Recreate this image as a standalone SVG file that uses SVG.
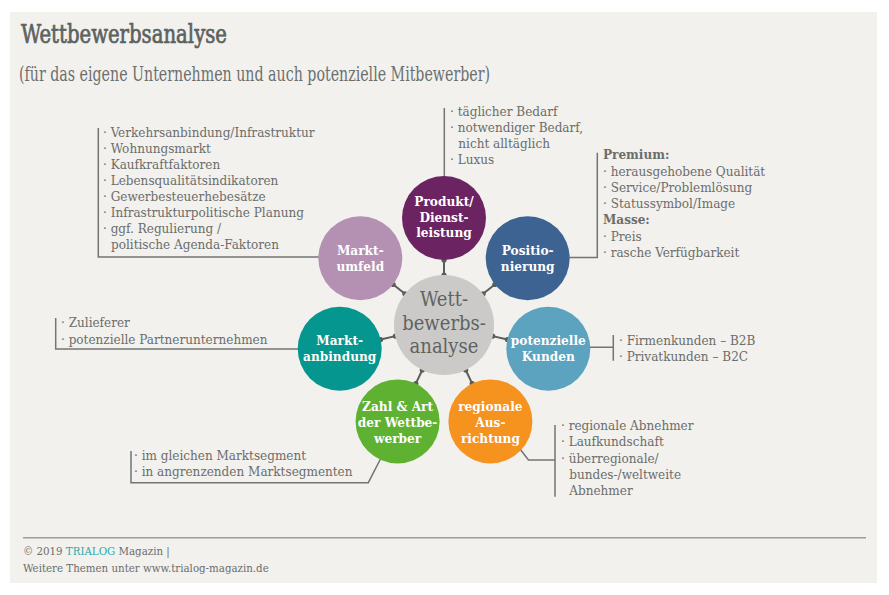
<svg xmlns="http://www.w3.org/2000/svg" width="889" height="595" viewBox="0 0 889 595">
<style>
.t{font-family:"DejaVu Serif Condensed","DejaVu Serif",serif;font-stretch:condensed;fill:#6b6d6b;font-size:13.4px}
.b{font-weight:bold}
.f{font-size:11.4px}
.c{font-family:"DejaVu Serif Condensed","DejaVu Serif",serif;font-stretch:condensed;fill:#ffffff;font-size:13.5px;font-weight:bold;text-anchor:middle}
.ct{font-family:"DejaVu Serif Condensed","DejaVu Serif",serif;font-stretch:condensed;fill:#5f6360;font-size:20px;text-anchor:middle}
.br{fill:none;stroke:#737573;stroke-width:1.5}
.cn{stroke:#5a5d5b;stroke-width:2}
.dot{fill:#5a5d5b}
</style>
<rect x="0" y="0" width="889" height="595" fill="#ffffff"/>
<rect x="10" y="12" width="867" height="571" fill="#f2f1ee"/>
<text x="21" y="43" font-family="DejaVu Serif Condensed, DejaVu Serif, serif" font-stretch="condensed" font-size="26.5" fill="#5c625f" stroke="#5c625f" stroke-width="0.7" textLength="206" lengthAdjust="spacingAndGlyphs">Wettbewerbsanalyse</text>
<text x="19" y="81" font-family="DejaVu Serif Condensed, DejaVu Serif, serif" font-stretch="condensed" font-size="19.5" fill="#6c6f6d" textLength="471" lengthAdjust="spacingAndGlyphs">(für das eigene Unternehmen und auch potenzielle Mitbewerber)</text>

<g id="connectors">
<path class="br" d="M98.3,128 V257 H319"/>
<path class="br" d="M444.3,108 V176"/>
<path class="br" d="M569.5,257.5 H597.3 V152.7"/>
<path class="br" d="M55.7,318 V349 H298.5"/>
<path class="br" d="M590,347.3 H613.3 M613.3,335 V360.7"/>
<path class="br" d="M131,451 V482.7 H368.3 L381.5,457"/>
<path class="br" d="M520,449 L528.5,460 H555 M555,425 V496.7"/>
<line class="cn" x1="444" y1="275" x2="444" y2="260"/>
<line class="cn" x1="483.1" y1="293.8" x2="494.8" y2="284.5"/>
<line class="cn" x1="492.7" y1="336.1" x2="507.4" y2="339.5"/>
<line class="cn" x1="465.7" y1="370" x2="472.2" y2="383.6"/>
<line class="cn" x1="422.3" y1="370" x2="415.8" y2="383.6"/>
<line class="cn" x1="395.3" y1="336.1" x2="380.6" y2="339.5"/>
<line class="cn" x1="404.9" y1="293.8" x2="393.2" y2="284.5"/>
<circle class="dot" cx="444" cy="275" r="2.6"/><circle class="dot" cx="444" cy="260" r="2.6"/>
<circle class="dot" cx="483.1" cy="293.8" r="2.6"/><circle class="dot" cx="494.8" cy="284.5" r="2.6"/>
<circle class="dot" cx="492.7" cy="336.1" r="2.6"/><circle class="dot" cx="507.4" cy="339.5" r="2.6"/>
<circle class="dot" cx="465.7" cy="370" r="2.6"/><circle class="dot" cx="472.2" cy="383.6" r="2.6"/>
<circle class="dot" cx="422.3" cy="370" r="2.6"/><circle class="dot" cx="415.8" cy="383.6" r="2.6"/>
<circle class="dot" cx="395.3" cy="336.1" r="2.6"/><circle class="dot" cx="380.6" cy="339.5" r="2.6"/>
<circle class="dot" cx="404.9" cy="293.8" r="2.6"/><circle class="dot" cx="393.2" cy="284.5" r="2.6"/>
</g>

<g id="center">
<circle cx="444" cy="325" r="50" fill="#cbcac8"/>
<text class="ct"><tspan x="444" y="306">Wett-</tspan><tspan x="444" y="329.5">bewerbs-</tspan><tspan x="444" y="353">analyse</tspan></text>
</g>

<g id="produkt">
<circle cx="444" cy="218" r="42" fill="#6c2361"/>
<text class="c" x="444" y="205.5">Produkt/</text>
<text class="c" x="444" y="221.5">Dienst-</text>
<text class="c" x="444" y="237">leistung</text>
</g>
<g id="positionierung">
<circle cx="527.7" cy="258.3" r="42" fill="#3c6391"/>
<text class="c" x="527.7" y="255">Positio-</text>
<text class="c" x="527.7" y="271">nierung</text>
</g>
<g id="kunden">
<circle cx="548.3" cy="348.8" r="42" fill="#5ba3bf"/>
<text class="c" x="548.3" y="345">potenzielle</text>
<text class="c" x="548.3" y="360.5">Kunden</text>
</g>
<g id="regional">
<circle cx="490.4" cy="421.4" r="42" fill="#f6921e"/>
<text class="c" x="490.4" y="411">regionale</text>
<text class="c" x="490.4" y="427">Aus-</text>
<text class="c" x="490.4" y="442.7">richtung</text>
</g>
<g id="zahl">
<circle cx="397.6" cy="421.4" r="42" fill="#5eb131"/>
<text class="c" x="397.6" y="411">Zahl &amp; Art</text>
<text class="c" x="397.6" y="427">der Wettbe-</text>
<text class="c" x="397.6" y="442.7">werber</text>
</g>
<g id="marktanbindung">
<circle cx="339.7" cy="348.8" r="42" fill="#05978f"/>
<text class="c" x="339.7" y="345">Markt-</text>
<text class="c" x="339.7" y="361">anbindung</text>
</g>
<g id="marktumfeld">
<circle cx="360.3" cy="258.3" r="42" fill="#b490b3"/>
<text class="c" x="360.3" y="255">Markt-</text>
<text class="c" x="360.3" y="271">umfeld</text>
</g>

<g id="list-marktumfeld">
<text class="t" x="103" y="136.7">· Verkehrsanbindung/Infrastruktur</text>
<text class="t" x="103" y="152.8">· Wohnungsmarkt</text>
<text class="t" x="103" y="168.9">· Kaufkraftfaktoren</text>
<text class="t" x="103" y="185">· Lebensqualitätsindikatoren</text>
<text class="t" x="103" y="201.1">· Gewerbesteuerhebesätze</text>
<text class="t" x="103" y="217.2">· Infrastrukturpolitische Planung</text>
<text class="t" x="103" y="233.3">· ggf. Regulierung /</text>
<text class="t" x="111" y="249.4">politische Agenda-Faktoren</text>
</g>
<g id="list-produkt">
<text class="t" x="450" y="115.7">· täglicher Bedarf</text>
<text class="t" x="450" y="131.7">· notwendiger Bedarf,</text>
<text class="t" x="458.3" y="147.7">nicht alltäglich</text>
<text class="t" x="450" y="164">· Luxus</text>
</g>
<g id="list-positionierung">
<text class="t b" x="603" y="159.3">Premium:</text>
<text class="t" x="603" y="175.7">· herausgehobene Qualität</text>
<text class="t" x="603" y="191.7">· Service/Problemlösung</text>
<text class="t" x="603" y="207.7">· Statussymbol/Image</text>
<text class="t b" x="603" y="224.2">Masse:</text>
<text class="t" x="603" y="240.6">· Preis</text>
<text class="t" x="603" y="256.7">· rasche Verfügbarkeit</text>
</g>
<g id="list-marktanbindung">
<text class="t" x="61" y="327.3">· Zulieferer</text>
<text class="t" x="61" y="344">· potenzielle Partnerunternehmen</text>
</g>
<g id="list-kunden">
<text class="t" x="619" y="345">· Firmenkunden – B2B</text>
<text class="t" x="619" y="360.5">· Privatkunden – B2C</text>
</g>
<g id="list-zahl">
<text class="t" x="134" y="460">· im gleichen Marktsegment</text>
<text class="t" x="134" y="475.8">· in angrenzenden Marktsegmenten</text>
</g>
<g id="list-regional">
<text class="t" x="561" y="430">· regionale Abnehmer</text>
<text class="t" x="561" y="446.4">· Laufkundschaft</text>
<text class="t" x="561" y="462.8">· überregionale/</text>
<text class="t" x="569.3" y="478.8">bundes-/weltweite</text>
<text class="t" x="569.3" y="494.6">Abnehmer</text>
</g>

<g id="footer">
<line x1="23" y1="537.7" x2="866" y2="537.7" stroke="#9d9e9c" stroke-width="1.5"/>
<text class="t f" x="23" y="555">© 2019 <tspan fill="#2aa9a6">TRIALOG</tspan> Magazin |</text>
<text class="t f" x="23" y="571.7">Weitere Themen unter www.trialog-magazin.de</text>
</g>
</svg>
